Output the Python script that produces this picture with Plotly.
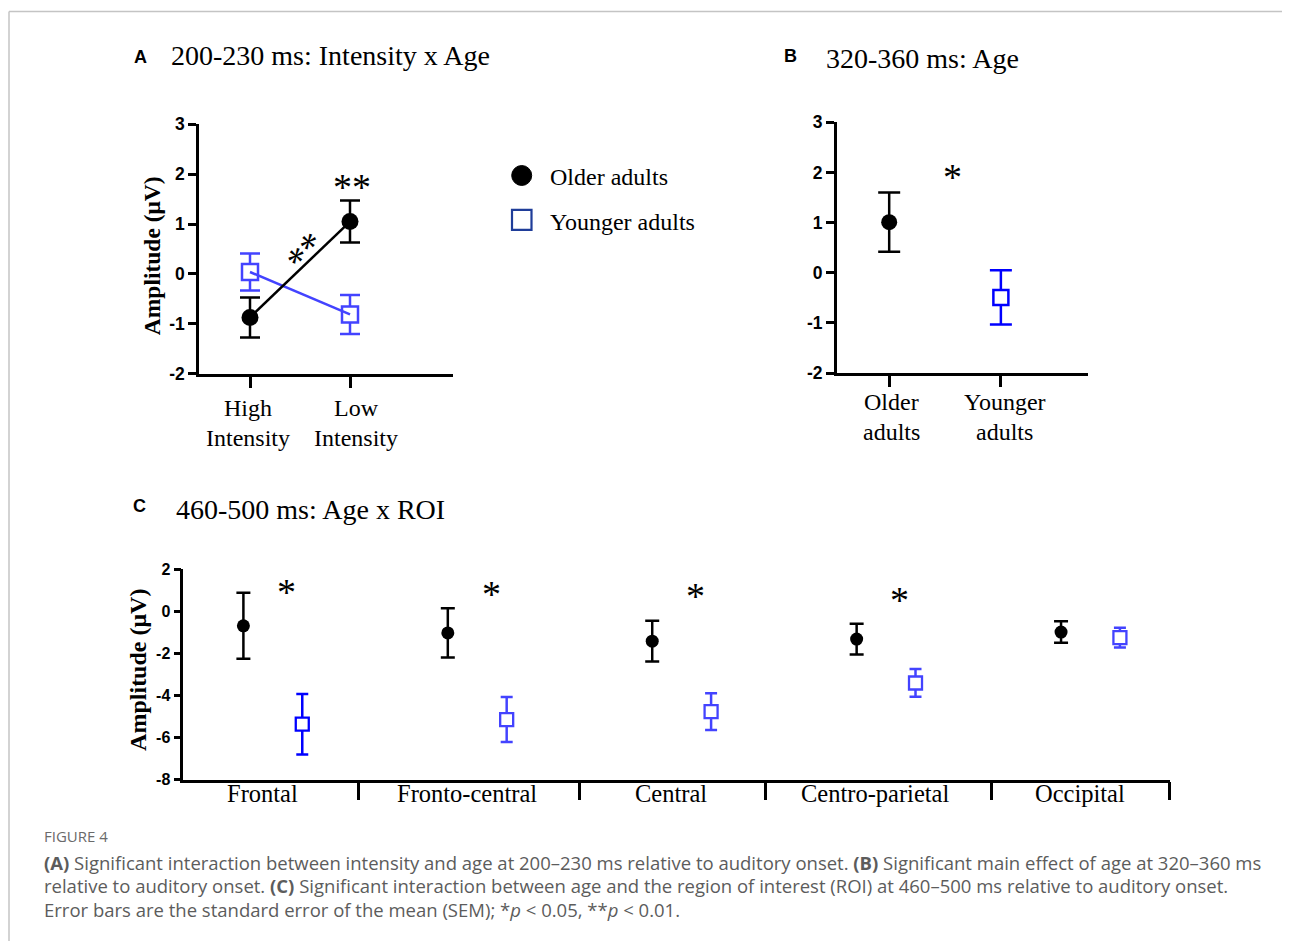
import plotly.graph_objects as go

# ---------------- data ----------------
intensity_labels = [["High", "Intensity"], ["Low", "Intensity"]]
a_older_mean = [-0.87, 1.05]
a_older_sem = [0.40, 0.42]
a_younger_mean = [0.04, -0.81]
a_younger_sem = [0.37, 0.39]

age_labels = [["Older", "adults"], ["Younger", "adults"]]
b_older_mean = [1.01]
b_older_sem = [0.59]
b_younger_mean = [-0.49]
b_younger_sem = [0.54]

roi_labels = ["Frontal", "Fronto-central", "Central", "Centro-parietal", "Occipital"]
c_older_mean = [-0.69, -1.03, -1.42, -1.32, -0.99]
c_older_sem = [1.57, 1.17, 0.97, 0.73, 0.51]
c_younger_mean = [-5.37, -5.15, -4.77, -3.41, -1.25]
c_younger_sem = [1.44, 1.07, 0.87, 0.66, 0.47]
c_sig_y = [1.1, 1.0, 0.9, 0.72]          # height of "*" marks (µV) for first four ROIs
c_group_edges = [0.471, 1.552, 2.461, 3.568, 4.44]  # separators between ROI groups

ab_yticks = [-2, -1, 0, 1, 2, 3]
c_yticks = [-8, -6, -4, -2, 0, 2]

# ---------------- styling ----------------
W, H = 1290, 943
SERIF = "Liberation Serif"
SANS = "Liberation Sans"
BLACK = "#000000"
BLUE_A = "#4343ff"
BLUE_B = "#0000ff"

# page placement of the paper area (measured): x -> x + 8 ; y -> 17 + 926 * frac
OX, OY, PH = 8.0, 17.0, 926.0


def px(x):
    return (x - OX) / W


def py(y):
    return 1 - (y - OY) / PH


fig = go.Figure()

# ---------- Panel A ----------
xa = list(range(len(intensity_labels)))
fig.add_trace(go.Scatter(
    x=xa, y=a_younger_mean, mode="markers",
    marker=dict(symbol="square", size=16, color="white", line=dict(color=BLUE_A, width=2.5)),
    error_y=dict(type="data", array=a_younger_sem, color=BLUE_A, thickness=2.5, width=10),
    xaxis="x", yaxis="y", showlegend=False))
fig.add_trace(go.Scatter(
    x=xa, y=a_younger_mean, mode="lines", line=dict(color=BLUE_A, width=2.5),
    xaxis="x", yaxis="y", showlegend=False))
fig.add_trace(go.Scatter(
    x=xa, y=a_older_mean, mode="lines+markers",
    line=dict(color=BLACK, width=2.5),
    marker=dict(symbol="circle", size=17, color=BLACK),
    error_y=dict(type="data", array=a_older_sem, color=BLACK, thickness=2.5, width=10),
    xaxis="x", yaxis="y", showlegend=False))

# ---------- Panel B ----------
xb = list(range(len(age_labels)))
fig.add_trace(go.Scatter(
    x=xb[:1], y=b_older_mean, mode="markers",
    marker=dict(symbol="circle", size=16, color=BLACK),
    error_y=dict(type="data", array=b_older_sem, color=BLACK, thickness=2.5, width=11),
    xaxis="x2", yaxis="y2", showlegend=False))
fig.add_trace(go.Scatter(
    x=xb[1:], y=b_younger_mean, mode="markers",
    marker=dict(symbol="square", size=15, color="white", line=dict(color=BLUE_B, width=2.5)),
    error_y=dict(type="data", array=b_younger_sem, color=BLUE_B, thickness=2.5, width=11),
    xaxis="x2", yaxis="y2", showlegend=False))

# ---------- Panel C ----------
OLD_OFF, YOUNG_OFF = -0.092, 0.196
xc = list(range(len(roi_labels)))
fig.add_trace(go.Scatter(
    x=[i + OLD_OFF for i in xc], y=c_older_mean, mode="markers",
    marker=dict(symbol="circle", size=13, color=BLACK),
    error_y=dict(type="data", array=c_older_sem, color=BLACK, thickness=2.5, width=7),
    xaxis="x3", yaxis="y3", showlegend=False))
young_cols = [BLUE_B] + [BLUE_A] * (len(roi_labels) - 1)
for i in xc:
    fig.add_trace(go.Scatter(
        x=[i + YOUNG_OFF], y=[c_younger_mean[i]], mode="markers",
        marker=dict(symbol="square", size=13, color="white", line=dict(color=young_cols[i], width=2.3)),
        error_y=dict(type="data", array=[c_younger_sem[i]], color=young_cols[i], thickness=2.5, width=6),
        xaxis="x3", yaxis="y3", showlegend=False))

axis_common = dict(showline=True, linecolor=BLACK, linewidth=2.5, ticks="outside",
                   tickcolor=BLACK, tickwidth=2.5, showgrid=False, zeroline=False)
ytick_font = dict(family=SANS, size=17.5, color=BLACK, weight="bold")

fig.update_layout(
    width=W, height=H, margin=dict(l=0, r=0, t=0, b=0),
    paper_bgcolor="white", plot_bgcolor="white",
    xaxis=dict(domain=[px(199), px(453)], range=[-0.51, 2.03], tickvals=xa,
               showticklabels=False, ticklen=11, anchor="y", **axis_common),
    yaxis=dict(domain=[py(374), py(123.5)], range=[-2, 3], tickvals=ab_yticks,
               ticktext=[str(v) for v in ab_yticks], ticklen=8,
               tickfont=ytick_font, anchor="x", **axis_common),
    xaxis2=dict(domain=[px(836.7), px(1088)], range=[-0.47, 1.78], tickvals=xb,
                showticklabels=False, ticklen=11, anchor="y2", **axis_common),
    yaxis2=dict(domain=[py(373.3), py(121.7)], range=[-2, 3], tickvals=ab_yticks,
                ticktext=[str(v) for v in ab_yticks], ticklen=8,
                tickfont=ytick_font, anchor="x2", **axis_common),
    xaxis3=dict(domain=[px(183.3), px(1170)], range=[-0.386, 4.441], tickvals=c_group_edges,
                showticklabels=False, ticklen=18, anchor="y3", **axis_common),
    yaxis3=dict(domain=[py(781), py(570)], range=[-8, 2], tickvals=c_yticks,
                ticktext=[str(v) for v in c_yticks], ticklen=7,
                tickfont=dict(family=SANS, size=16, color=BLACK, weight="bold"),
                anchor="x3", **axis_common),
)

ann = []


def txt(x, y, text, size, family=SERIF, color=BLACK, xanchor="left", weight="normal",
        xref="paper", yref="paper", angle=0, yshift=0, xshift=0):
    ann.append(dict(x=x, y=y, xref=xref, yref=yref, text=text, showarrow=False,
                    xanchor=xanchor, yanchor="middle", textangle=angle, yshift=yshift, xshift=xshift,
                    font=dict(family=family, size=size, color=color, weight=weight)))


# panel letters and titles
txt(px(132), py(56), "A", 18, SANS, weight="bold")
txt(px(169), py(55), "200-230 ms: Intensity x Age", 28)
txt(px(782), py(55), "B", 18, SANS, weight="bold")
txt(px(824), py(58), "320-360 ms: Age", 28)
txt(px(131), py(507), "C", 18, SANS, weight="bold")
txt(px(174), py(510), "460-500 ms: Age x ROI", 28)

# category labels (two lines each)
a_shift = [-2, 6]
for i, (l1, l2) in enumerate(intensity_labels):
    txt(i, py(408), l1, 24, xanchor="center", xref="x", xshift=a_shift[i])
    txt(i, py(438), l2, 24, xanchor="center", xref="x", xshift=a_shift[i])
b_shift = [2, 4]
for i, (l1, l2) in enumerate(age_labels):
    txt(i, py(402.5), l1, 24, xanchor="center", xref="x2", xshift=b_shift[i])
    txt(i, py(432), l2, 24, xanchor="center", xref="x2", xshift=b_shift[i])

# y-axis titles
txt(px(152), py(256), "Amplitude (μV)", 23.5, weight="bold", xanchor="center", angle=-90)
txt(px(138), py(671), "Amplitude (μV)", 24, weight="bold", xanchor="center", angle=-90)

# legend labels
txt(px(548), py(177), "Older adults", 24)
txt(px(548), py(222), "Younger adults", 24)

# ROI labels
for i, lab in enumerate(roi_labels):
    txt(i, py(795), lab, 24.5, xanchor="center", xref="x3")

# significance marks
STAR = 38
SHIFT = -4
txt(1.02, 1.82, "**", STAR, xanchor="center", xref="x", yref="y", yshift=SHIFT)
txt(0.53, 0.50, "**", STAR, xanchor="center", xref="x", yref="y", angle=-49, xshift=3, yshift=-3)
txt(0.564, 1.99, "*", STAR, xanchor="center", xref="x2", yref="y2", yshift=SHIFT)
for i, yv in enumerate(c_sig_y):
    txt(i + 0.12, yv, "*", STAR, xanchor="center", xref="x3", yref="y3", yshift=SHIFT)

# caption
CAP = "Open Sans"
CAPC = "#5c5c5c"
txt(px(42), py(838), "FIGURE 4", 15, CAP, color="#6a6a6a")
txt(px(42), py(864), "<b>(A)</b> Significant interaction between intensity and age at 200–230 ms relative to auditory onset. "
    "<b>(B)</b> Significant main effect of age at 320–360 ms", 18.5, CAP, color=CAPC)
txt(px(42), py(887), "relative to auditory onset. <b>(C)</b> Significant interaction between age and the region of "
    "interest (ROI) at 460–500 ms relative to auditory onset.", 18.5, CAP, color=CAPC)
txt(px(42), py(911), "Error bars are the standard error of the mean (SEM); *<i>p</i> &lt; 0.05, **<i>p</i> &lt; 0.01.",
    18.5, CAP, color=CAPC)

fig.update_layout(annotations=ann)

# legend glyphs and figure frame
shapes = [
    dict(type="circle", xref="paper", yref="paper", x0=px(511.7), x1=px(531.7), y0=py(185), y1=py(165),
         fillcolor=BLACK, line=dict(color=BLACK, width=1)),
    dict(type="rect", xref="paper", yref="paper", x0=px(512), x1=px(531.5), y0=py(229.5), y1=py(209.5),
         fillcolor="white", line=dict(color="#1f3d99", width=2.2)),
    dict(type="line", xref="paper", yref="paper", x0=px(9), x1=1, y0=py(10.5), y1=py(10.5),
         line=dict(color="#c4c4c4", width=1.5)),
    dict(type="line", xref="paper", yref="paper", x0=px(9), x1=px(9), y0=py(10.5), y1=0,
         line=dict(color="#c4c4c4", width=1.5)),
]
fig.update_layout(shapes=shapes)

fig.write_html("out.html")
